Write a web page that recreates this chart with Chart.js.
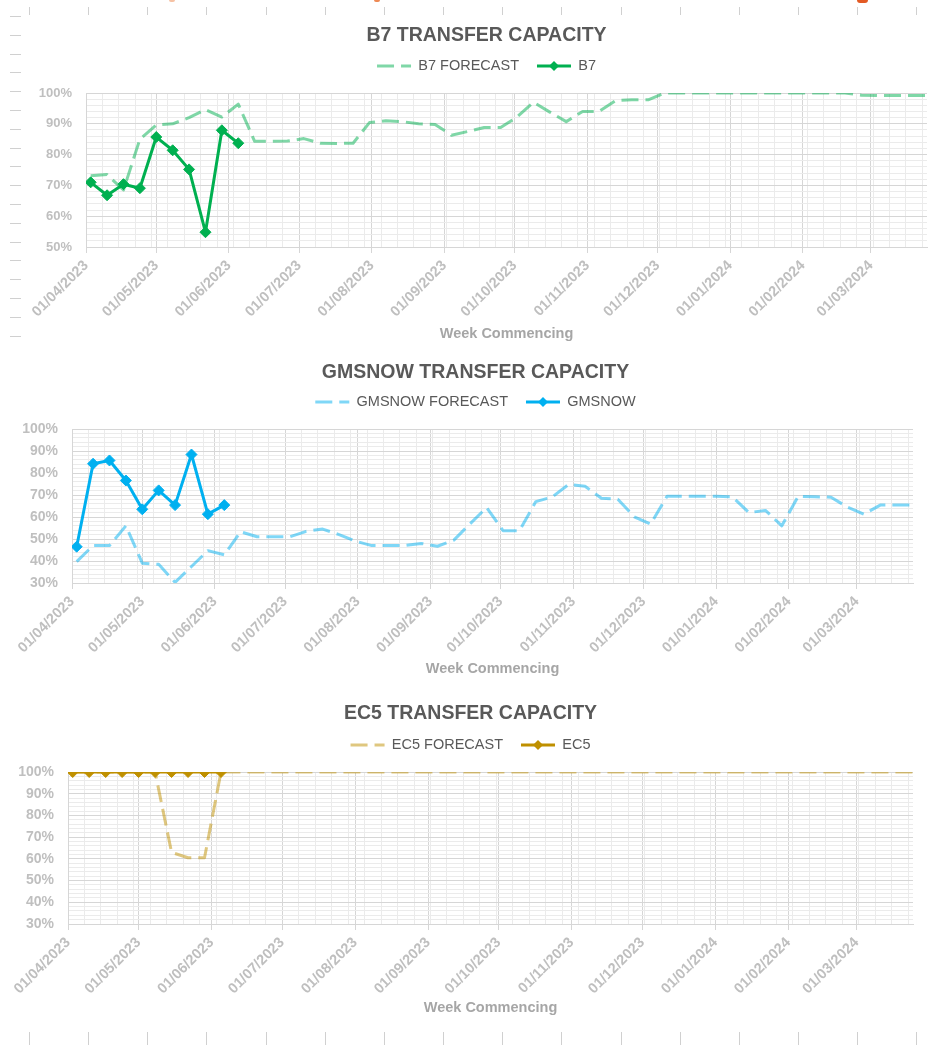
<!DOCTYPE html>
<html>
<head>
<meta charset="utf-8">
<title>Transfer Capacity</title>
<script src="https://cdn.jsdelivr.net/npm/chart.js@4.4.1/dist/chart.umd.min.js"></script>
<style>
    html, body { margin: 0; padding: 0; background: #ffffff; }
    body { width: 928px; height: 1045px; position: relative; overflow: hidden; font-family: 'Liberation Sans', Arial, sans-serif; }
    .chart-box { position: absolute; left: 0; width: 928px; }
    .mark { position: absolute; background: #d0d0d0; }
    .frag { position: absolute; top: 0; border-radius: 0 0 4px 4px; }
</style>
</head>
<body>
<div class="frag" style="left:169px;width:6px;height:2px;background:#f6c2a4"></div>
<div class="frag" style="left:374px;width:6px;height:2px;background:#ee8a55"></div>
<div class="frag" style="left:857px;width:11px;height:3px;background:#e35a24"></div>

<!-- the first chart runs past the right edge of the window, as in the original -->
<div class="chart-box" style="top:0;height:343px;width:942px"><canvas id="b7Chart"></canvas></div>
<div class="chart-box" style="top:345px;height:333px"><canvas id="gmsnowChart"></canvas></div>
<div class="chart-box" style="top:685px;height:332px"><canvas id="ec5Chart"></canvas></div>

<script>
// Week commencing dates (one point per week)
const weeks = [
    '03/04/2023', '10/04/2023', '17/04/2023', '24/04/2023',
    '01/05/2023', '08/05/2023', '15/05/2023', '22/05/2023', '29/05/2023',
    '05/06/2023', '12/06/2023', '19/06/2023', '26/06/2023',
    '03/07/2023', '10/07/2023', '17/07/2023', '24/07/2023', '31/07/2023',
    '07/08/2023', '14/08/2023', '21/08/2023', '28/08/2023',
    '04/09/2023', '11/09/2023', '18/09/2023', '25/09/2023',
    '02/10/2023', '09/10/2023', '16/10/2023', '23/10/2023', '30/10/2023',
    '06/11/2023', '13/11/2023', '20/11/2023', '27/11/2023',
    '04/12/2023', '11/12/2023', '18/12/2023', '25/12/2023',
    '01/01/2024', '08/01/2024', '15/01/2024', '22/01/2024', '29/01/2024',
    '05/02/2024', '12/02/2024', '19/02/2024', '26/02/2024',
    '04/03/2024', '11/03/2024', '18/03/2024', '25/03/2024'
];

// Month tick labels on the x axis
const monthTicks = [
    '01/04/2023', '01/05/2023', '01/06/2023', '01/07/2023', '01/08/2023', '01/09/2023',
    '01/10/2023', '01/11/2023', '01/12/2023', '01/01/2024', '01/02/2024', '01/03/2024'
];

// B7 (%)
const b7Forecast = [
    73.1, 73.5, 68.5, 85, 89.6, 90, 92, 94.6, 92.2, 96.4,
    84.3, 84.3, 84.4, 85.2, 83.7, 83.6, 83.7, 90.4, 91, 90.7,
    90, 89.8, 86.3, 87.5, 88.8, 88.8, 92.2, 97, 93.8, 90.7,
    94, 94, 97.5, 97.8, 97.8, 100, 100, 100, 100, 100,
    100, 100, 100, 100, 100, 100, 100, 99.3, 99.2, 99.2,
    99.2, 99.2
];
const b7Actual = [71, 66.8, 70.4, 69.1, 85.7, 81.4, 75.2, 54.8, 87.9, 83.7];

// GMSNOW (%)
const gmsnowForecast = [
    39.7, 47, 47, 56, 39, 38.5, 30.3, 37.5, 44.7, 42.8,
    53.3, 51, 51, 51, 53.5, 54.5, 52, 49, 47, 47,
    47, 48, 46.7, 49.5, 57, 64.3, 53.8, 53.8, 67, 69.1,
    74.8, 74, 68.5, 68.1, 60.1, 56.8, 69.4, 69.4, 69.4, 69.4,
    69.1, 62, 63, 56, 69.4, 69.2, 69, 64.5, 61.3, 65.4,
    65.4, 65.4
];
const gmsnowActual = [46.5, 84.2, 85.7, 76.6, 63.5, 72.1, 65.4, 88.4, 61.3, 65.4];

// EC5 (%)
const ec5Forecast = [
    100, 100, 100, 100, 100, 100, 63, 60.5, 60.5, 100,
    100, 100, 100, 100, 100, 100, 100, 100, 100, 100,
    100, 100, 100, 100, 100, 100, 100, 100, 100, 100,
    100, 100, 100, 100, 100, 100, 100, 100, 100, 100,
    100, 100, 100, 100, 100, 100, 100, 100, 100, 100,
    100, 100
];
const ec5Actual = [100, 100, 100, 100, 100, 100, 100, 100, 100, 100];

const MAJOR_GRID = '#d6d6d6';
const MINOR_GRID = '#ebebeb';
const FONT = "'Liberation Sans', Arial, sans-serif";

function parseDate(str) {
    const [d, m, y] = str.split('/').map(Number);
    return Date.UTC(y, m - 1, d);
}

const AXIS_START = parseDate(monthTicks[0]);

function dayNum(str) {
    return Math.round((parseDate(str) - AXIS_START) / 86400000);
}

const labelByDay = {};
monthTicks.forEach(t => { labelByDay[dayNum(t)] = t; });

function isMonth(v) {
    return labelByDay[v] !== undefined;
}

function toPoints(values) {
    return values.map((v, i) => ({ x: dayNum(weeks[i]), y: v }));
}

// Nudges title + legend sideways so they sit where the original did
const headerShift = {
    id: 'headerShift',
    afterLayout(chart, args, opts) {
        const dx = opts.dx || 0;
        [chart.titleBlock, chart.legend].forEach(box => {
            if (!box) return;
            box.left += dx;
            box.right += dx;
        });
    }
};

// Draws the line sample (and diamond) for each legend entry
const legendSamples = {
    id: 'legendSamples',
    afterDraw(chart) {
        const legend = chart.legend;
        if (!legend || !legend.legendHitBoxes) return;
        const ctx = chart.ctx;
        const boxWidth = legend.options.labels.boxWidth;
        legend.legendItems.forEach((item, i) => {
            const ds = chart.data.datasets[item.datasetIndex];
            const box = legend.legendHitBoxes[i];
            const y = box.top + box.height / 2;
            ctx.save();
            ctx.strokeStyle = ds.borderColor;
            ctx.lineWidth = 3;
            ctx.setLineDash(ds.borderDash || []);
            ctx.beginPath();
            ctx.moveTo(box.left, y);
            ctx.lineTo(box.left + boxWidth, y);
            ctx.stroke();
            if (ds.pointRadius > 0) {
                const cx = box.left + boxWidth / 2;
                const r = 5;
                ctx.setLineDash([]);
                ctx.fillStyle = ds.borderColor;
                ctx.beginPath();
                ctx.moveTo(cx, y - r);
                ctx.lineTo(cx + r, y);
                ctx.lineTo(cx, y + r);
                ctx.lineTo(cx - r, y);
                ctx.closePath();
                ctx.fill();
            }
            ctx.restore();
        });
    }
};

function buildChart(canvasId, cfg) {
    const ctx = document.getElementById(canvasId).getContext('2d');

    return new Chart(ctx, {
        type: 'line',
        data: {
            datasets: [{
                label: cfg.forecastLabel,
                data: toPoints(cfg.forecast),
                borderColor: cfg.forecastColor,
                borderWidth: 3,
                borderDash: [17, 7],
                borderJoinStyle: 'round',
                pointRadius: 0,
                tension: 0,
                order: 2
            }, {
                label: cfg.actualLabel,
                data: toPoints(cfg.actual),
                borderColor: cfg.actualColor,
                backgroundColor: cfg.actualColor,
                borderWidth: 3,
                borderJoinStyle: 'round',
                pointStyle: 'rectRot',
                pointRadius: 5.5,
                pointBorderWidth: 1,
                tension: 0,
                order: 1
            }]
        },
        options: {
            responsive: true,
            maintainAspectRatio: false,
            animation: false,
            layout: {
                padding: { left: cfg.padLeft, right: cfg.padRight, top: 0, bottom: 0 }
            },
            plugins: {
                headerShift: { dx: cfg.headerShift },
                title: {
                    display: true,
                    text: cfg.title,
                    color: '#595959',
                    font: { family: FONT, size: 19.5, weight: 'bold' },
                    padding: cfg.titlePadding
                },
                legend: {
                    display: true,
                    labels: {
                        boxWidth: 34,
                        boxHeight: 34,
                        padding: 18,
                        color: '#595959',
                        font: { family: FONT, size: 14.5 },
                        sort: (a, b) => a.datasetIndex - b.datasetIndex,
                        generateLabels: function(chart) {
                            const items = Chart.defaults.plugins.legend.labels.generateLabels(chart);
                            items.forEach(item => {
                                item.fillStyle = 'rgba(0,0,0,0)';
                                item.strokeStyle = 'rgba(0,0,0,0)';
                                item.lineWidth = 0;
                            });
                            return items;
                        }
                    }
                },
                tooltip: { enabled: false }
            },
            scales: {
                x: {
                    type: 'linear',
                    min: dayNum(monthTicks[0]),
                    max: dayNum(weeks[weeks.length - 1]),
                    afterBuildTicks: function(scale) {
                        const values = new Set(Object.keys(labelByDay).map(Number));
                        for (let d = 0; d <= scale.max; d += 7) values.add(d);
                        scale.ticks = [...values].sort((a, b) => a - b).map(v => ({ value: v }));
                    },
                    afterFit: function(scale) {
                        scale.height = cfg.xHeight;
                    },
                    ticks: {
                        autoSkip: false,
                        minRotation: 45,
                        maxRotation: 45,
                        padding: 4,
                        color: '#bfbfbf',
                        font: { family: FONT, size: 14.5, weight: 'bold' },
                        callback: function(value) {
                            return labelByDay[value] || '';
                        }
                    },
                    grid: {
                        color: c => isMonth(c.tick.value) ? MAJOR_GRID : MINOR_GRID,
                        tickColor: c => isMonth(c.tick.value) ? MAJOR_GRID : 'rgba(0,0,0,0)',
                        tickLength: 6
                    },
                    border: { color: MAJOR_GRID },
                    title: {
                        display: true,
                        text: 'Week Commencing',
                        color: '#a6a6a6',
                        font: { family: FONT, size: 14.5, weight: 'bold' },
                        padding: { top: 0, bottom: 0 }
                    }
                },
                y: {
                    min: cfg.yMin,
                    max: 100,
                    afterBuildTicks: function(scale) {
                        const ticks = [];
                        for (let v = scale.min; v <= scale.max; v += 2) ticks.push({ value: v });
                        scale.ticks = ticks;
                    },
                    afterFit: function(scale) {
                        scale.width = cfg.yWidth;
                    },
                    ticks: {
                        autoSkip: false,
                        padding: 14,
                        color: '#bfbfbf',
                        font: { family: FONT, size: cfg.yFontSize, weight: 'bold' },
                        callback: function(value) {
                            return value % 10 === 0 ? value + '%' : '';
                        }
                    },
                    grid: {
                        color: c => c.tick.value % 10 === 0 ? MAJOR_GRID : MINOR_GRID,
                        drawTicks: false
                    },
                    border: { color: MAJOR_GRID }
                }
            }
        },
        plugins: [headerShift, legendSamples]
    });
}

function drawMarks() {
    // Faint worksheet ruler marks around the charts
    for (let i = 0; i < 18; i++) {
        const m = document.createElement('div');
        m.className = 'mark';
        m.style.cssText = `left:10px;top:${Math.round(16 + i * 18.8)}px;width:11px;height:1px`;
        document.body.appendChild(m);
    }
    for (let i = 0; i < 16; i++) {
        const x = Math.round(29 + i * 59.15);
        const top = document.createElement('div');
        top.className = 'mark';
        top.style.cssText = `left:${x}px;top:7px;width:1px;height:8px`;
        document.body.appendChild(top);
        const bottom = document.createElement('div');
        bottom.className = 'mark';
        bottom.style.cssText = `left:${x}px;top:1032px;width:1px;height:13px`;
        document.body.appendChild(bottom);
    }
}

drawMarks();

buildChart('b7Chart', {
    title: 'B7 TRANSFER CAPACITY',
    forecastLabel: 'B7 FORECAST',
    actualLabel: 'B7',
    forecast: b7Forecast,
    actual: b7Actual,
    forecastColor: 'rgba(0, 176, 80, 0.5)',
    actualColor: '#00b050',
    yMin: 50,
    yFontSize: 13,
    padLeft: 34,
    padRight: 15,
    yWidth: 52,
    headerShift: 6,
    xHeight: 96,
    titlePadding: { top: 24.3, bottom: -16.7 }
});

buildChart('gmsnowChart', {
    title: 'GMSNOW TRANSFER CAPACITY',
    forecastLabel: 'GMSNOW FORECAST',
    actualLabel: 'GMSNOW',
    forecast: gmsnowForecast,
    actual: gmsnowActual,
    forecastColor: 'rgba(0, 176, 240, 0.5)',
    actualColor: '#00b0f0',
    yMin: 30,
    yFontSize: 14,
    padLeft: 16,
    padRight: 15,
    yWidth: 56,
    headerShift: 11,
    xHeight: 95,
    titlePadding: { top: 15.8, bottom: -17.2 }
});

buildChart('ec5Chart', {
    title: 'EC5 TRANSFER CAPACITY',
    forecastLabel: 'EC5 FORECAST',
    actualLabel: 'EC5',
    forecast: ec5Forecast,
    actual: ec5Actual,
    forecastColor: 'rgba(191, 144, 0, 0.5)',
    actualColor: '#bf9000',
    yMin: 30,
    yFontSize: 14,
    padLeft: 12,
    padRight: 15,
    yWidth: 56,
    headerShift: 8,
    xHeight: 93,
    titlePadding: { top: 16.8, bottom: -15.2 }
});
</script>
</body>
</html>
